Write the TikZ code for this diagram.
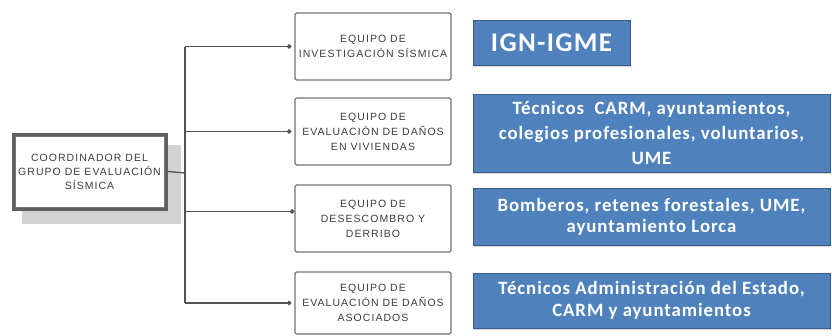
\documentclass[tikz,border=0pt]{standalone}
\usepackage{fontspec}
\setmainfont{Liberation Sans}
\newfontfamily\equipofont[LetterSpace=10]{Liberation Sans}
\newfontfamily\entidadfont[LetterSpace=5]{Carlito}
\usetikzlibrary{arrows.meta,shadows}

\definecolor{azul}{RGB}{79,129,189}
\definecolor{azulborde}{RGB}{56,93,138}
\definecolor{gristexto}{RGB}{60,60,60}
\definecolor{grisborde}{RGB}{115,115,115}

\tikzset{
  equipo/.style={draw=grisborde, line width=1.3pt, rounded corners=1.5pt, fill=white,
    minimum width=156pt, minimum height=67pt, inner sep=0pt, align=center,
    text=gristexto, font=\equipofont\fontsize{10.5}{15}\selectfont},
  coordinador/.style={equipo, rounded corners=0pt, draw=gray!75!black, line width=3pt,
    minimum width=153pt, minimum height=75pt,
    font=\equipofont\fontsize{10.5}{14}\selectfont},
  sombra/.style={fill=gray!35, draw=none},
  entidad/.style={draw=azulborde, line width=1pt, fill=azul, text=white, inner sep=0pt,
    align=center, font=\entidadfont\bfseries\fontsize{18.8}{21}\selectfont,
    drop shadow={shadow xshift=1pt, shadow yshift=-1.5pt, opacity=0.3}},
  enlace/.style={draw=gray!65!black, line width=1.3pt},
  rama/.style={enlace, -{Circle[length=4.5pt]}, shorten >=3pt},
}

\begin{document}
\begin{tikzpicture}[x=1pt, y=-1pt]
  \useasboundingbox (0,0) rectangle (832,335);

  % coordinador
  \fill[sombra] (22,145) rectangle (181,224);
  \node[coordinador] (coord) at (89.5,171.5) {COORDINADOR DEL\\GRUPO DE EVALUACIÓN\\SÍSMICA};
  \draw[grisborde, line width=0.6pt] ([shift={(3.5pt,-3.5pt)}]coord.north west) rectangle ([shift={(-3.5pt,3.5pt)}]coord.south east);

  % equipos
  \node[equipo] (inv) at (373,46.5) {EQUIPO DE\\INVESTIGACIÓN SÍSMICA};
  \node[equipo] (viv) at (373,131.5) {EQUIPO DE\\EVALUACIÓN DE DAÑOS\\EN VIVIENDAS};
  \node[equipo] (desc) at (373,218.5) {EQUIPO DE\\DESESCOMBRO Y\\DERRIBO};
  \node[equipo, minimum height=62pt] (aso) at (373,303) {EQUIPO DE\\EVALUACIÓN DE DAÑOS\\ASOCIADOS};

  % entidades
  \node[entidad, minimum width=157pt, minimum height=45pt, font=\entidadfont\bfseries\fontsize{27}{30}\selectfont]
    (ign) at (551.5,42.5) {IGN-IGME};
  \node[entidad, minimum width=357pt, minimum height=78pt, font=\entidadfont\bfseries\fontsize{18.8}{25}\selectfont]
    (tec) at (651.5,133) {Técnicos\ \ CARM, ayuntamientos,\\colegios profesionales, voluntarios,\\UME};
  \node[entidad, minimum width=357pt, minimum height=57pt] (bom) at (651.5,216.5)
    {Bomberos, retenes forestales, UME,\\ayuntamiento Lorca};
  \node[entidad, minimum width=357pt, minimum height=55pt, font=\entidadfont\bfseries\fontsize{18.8}{22}\selectfont]
    (adm) at (651.5,300.5) {Técnicos Administración del Estado,\\CARM y ayuntamientos};

  % conectores
  \coordinate (tronco) at (185,173);
  \draw[enlace] (coord.east) -- (tronco);
  \draw[enlace] (tronco |- inv.west) -- (tronco |- aso.west);
  \draw[rama] (tronco |- inv.west) -- (inv.west);
  \draw[rama] (tronco |- viv.west) -- (viv.west);
  \draw[rama, shorten >=0pt] ([yshift=7pt]desc.west -| tronco) -- ([yshift=7pt]desc.west);
  \draw[rama] (tronco |- aso.west) -- (aso.west);
\end{tikzpicture}
\end{document}
